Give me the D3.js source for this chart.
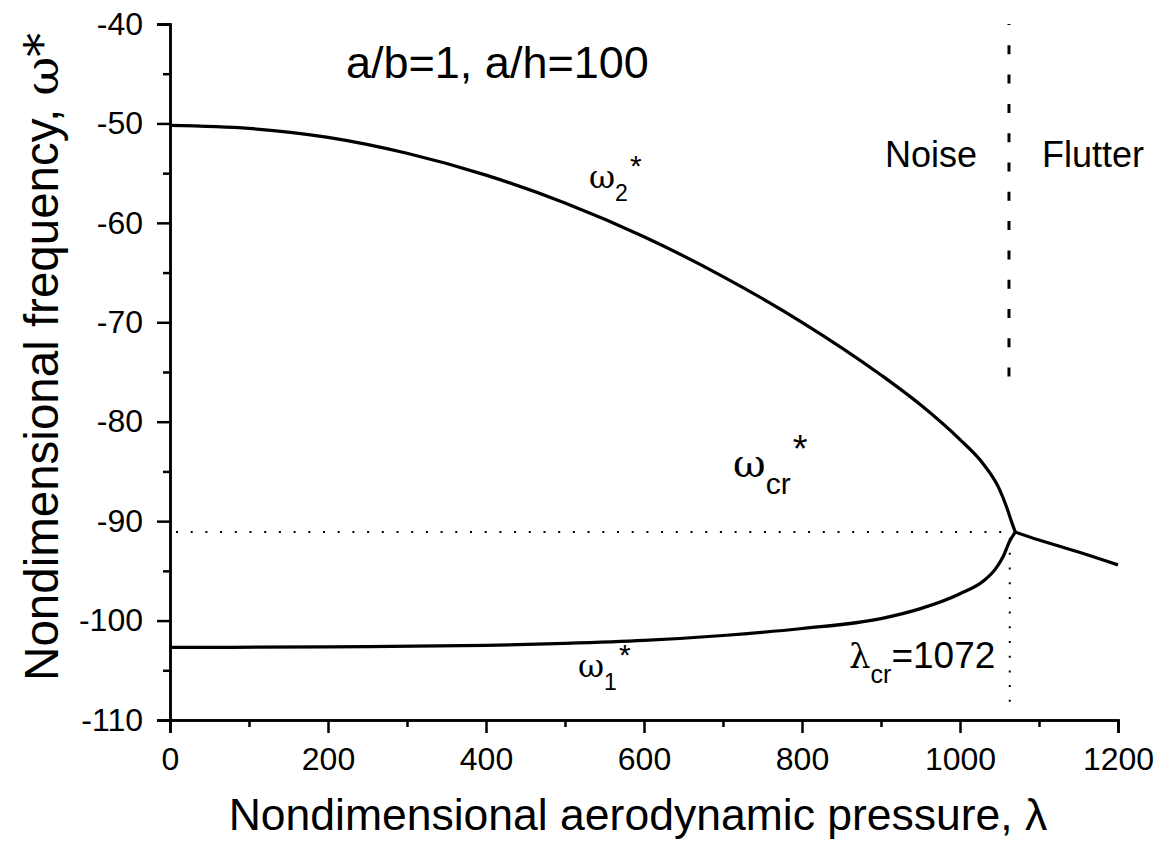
<!DOCTYPE html>
<html><head><meta charset="utf-8">
<script src="https://cdn.jsdelivr.net/npm/d3@7"></script>
<style>
body{margin:0;background:#fff;}
svg{display:block;font-family:"Liberation Sans",Arial,sans-serif;}
</style></head><body>
<svg id="c" width="1169" height="849"></svg>
<script>
// ---- data ----
const lambdaUpper = [0,100,200,300,400,500,600,700,800,900,950,1000,1030,1050,1060,1065,1070];
const omegaUpper  = [-50.2,-50.5,-51.4,-53.0,-55.2,-58.0,-61.4,-65.4,-70.0,-75.3,-78.3,-81.8,-84.3,-86.8,-88.8,-90.0,-91.1];
const lambdaLower = [0,200,400,500,600,700,800,900,950,1000,1030,1045,1055,1063,1070];
const omegaLower  = [-102.7,-102.65,-102.5,-102.3,-102.0,-101.5,-100.8,-99.8,-98.8,-97.3,-96.0,-94.8,-93.5,-92.0,-91.1];
const lambdaMerged = [1070,1100,1150,1200];
const omegaMerged  = [-91.1,-91.9,-93.1,-94.4];
const xTicks = [0,200,400,600,800,1000,1200];
const yTicks = [-110,-100,-90,-80,-70,-60,-50,-40];
const xMinor = [100,300,500,700,900,1100];
const yMinor = [-105,-95,-85,-75,-65,-55,-45];
const lambdaCr = 1063, omegaCr = -91.1, boundaryLambda = 1062;
const boundaryTop = -40, boundaryBottom = -75.5;

const svg = d3.select("#c");
const x = d3.scaleLinear().domain([0,1200]).range([170,1118]);
const y = d3.scaleLinear().domain([-110,-40]).range([720,24]);

function styleAxis(g){
  g.select(".domain").attr("stroke","#000").attr("stroke-width",2.5);
  g.selectAll(".tick line").attr("stroke","#000").attr("stroke-width",2.5);
  g.selectAll(".tick text").attr("fill","#000").style("font-size","32px").style("font-family","'Liberation Sans',Arial,sans-serif");
}
// minor ticks
svg.append("g").attr("transform",`translate(${x(0)},0)`)
  .call(d3.axisLeft(y).tickValues(yMinor).tickSize(7).tickFormat(""))
  .call(styleAxis);
svg.append("g").attr("transform",`translate(0,${y(-110)})`)
  .call(d3.axisBottom(x).tickValues(xMinor).tickSize(7).tickFormat(""))
  .call(styleAxis);
// major
svg.append("g").attr("transform",`translate(${x(0)},0)`)
  .call(d3.axisLeft(y).tickValues(yTicks).tickSize(13).tickPadding(14).tickFormat(d=>String(d)))
  .call(styleAxis);
svg.append("g").attr("transform",`translate(0,${y(-110)})`)
  .call(d3.axisBottom(x).tickValues(xTicks).tickSize(13).tickPadding(14).tickFormat(d=>String(d)))
  .call(styleAxis);

const line = d3.line().x((d)=>x(d[0])).y(d=>y(d[1])).curve(d3.curveMonotoneX);
function draw(ls, os){
  svg.append("path").datum(ls.map((l,i)=>[l,os[i]]))
    .attr("d",line).attr("fill","none").attr("stroke","#000").attr("stroke-width",3.2).attr("stroke-linejoin","round");
}
draw(lambdaUpper, omegaUpper);
draw(lambdaLower, omegaLower);
draw(lambdaMerged, omegaMerged);

// dotted critical lines
svg.append("line").attr("x1",x(0)+6).attr("x2",x(lambdaCr)).attr("y1",y(omegaCr)).attr("y2",y(omegaCr))
  .attr("stroke","#000").attr("stroke-width",2).attr("stroke-dasharray","2 12.7");
svg.append("line").attr("x1",x(lambdaCr)).attr("x2",x(lambdaCr)).attr("y1",y(omegaCr)+6).attr("y2",y(-110)-6)
  .attr("stroke","#000").attr("stroke-width",2).attr("stroke-dasharray","2 12.7");
// dashed boundary
svg.append("line").attr("x1",x(boundaryLambda)).attr("x2",x(boundaryLambda)).attr("y1",y(boundaryTop)).attr("y2",y(boundaryBottom))
  .attr("stroke","#000").attr("stroke-width",3).attr("stroke-dasharray","9 20.3").attr("stroke-dashoffset",8);

// texts
const T = (tx,ty,str,size,anchor)=>svg.append("text").attr("x",tx).attr("y",ty).attr("text-anchor",anchor||"start")
   .style("font-size",size+"px").attr("fill","#000").text(str);
T(346,78,"a/b=1, a/h=100",45);
T(885,167,"Noise",36);
T(1042,167,"Flutter",36);

function omegaLabel(tx,ty,sub,size,subSize,starSize){
  const t = svg.append("text").attr("x",tx).attr("y",ty).attr("fill","#000").style("font-size",size+"px");
  t.append("tspan").style("font-family","'DejaVu Serif',serif").text("ω");
  t.append("tspan").attr("dy",size*0.42).style("font-size",subSize+"px").text(sub);
  t.append("tspan").attr("dy",-size*0.8).attr("dx",2).style("font-size",starSize+"px").text("*");
}
omegaLabel(589,188,"2",32,23,30);
omegaLabel(578,677,"1",32,23,30);
omegaLabel(733,477,"cr",40,30,38);

const lt = svg.append("text").attr("x",849).attr("y",668).attr("fill","#000").style("font-size","37px");
lt.append("tspan").style("font-family","'DejaVu Serif',serif").style("font-size","34px").text("λ");
lt.append("tspan").attr("dy",15).style("font-size","25px").text("cr");
lt.append("tspan").attr("dy",-15).text("=1072");

// axis titles
svg.append("text").attr("x",638).attr("y",830).attr("text-anchor","middle").style("font-size","44.5px").attr("fill","#000")
  .text("Nondimensional aerodynamic pressure, λ");
const yt = svg.append("text").attr("transform","translate(58,357) rotate(-90)").attr("text-anchor","middle")
  .style("font-size","47.5px").attr("fill","#000");
yt.append("tspan").text("Nondimensional frequency, ");
yt.append("tspan").style("font-family","'DejaVu Serif',serif").text("ω*");
</script>
</body></html>
